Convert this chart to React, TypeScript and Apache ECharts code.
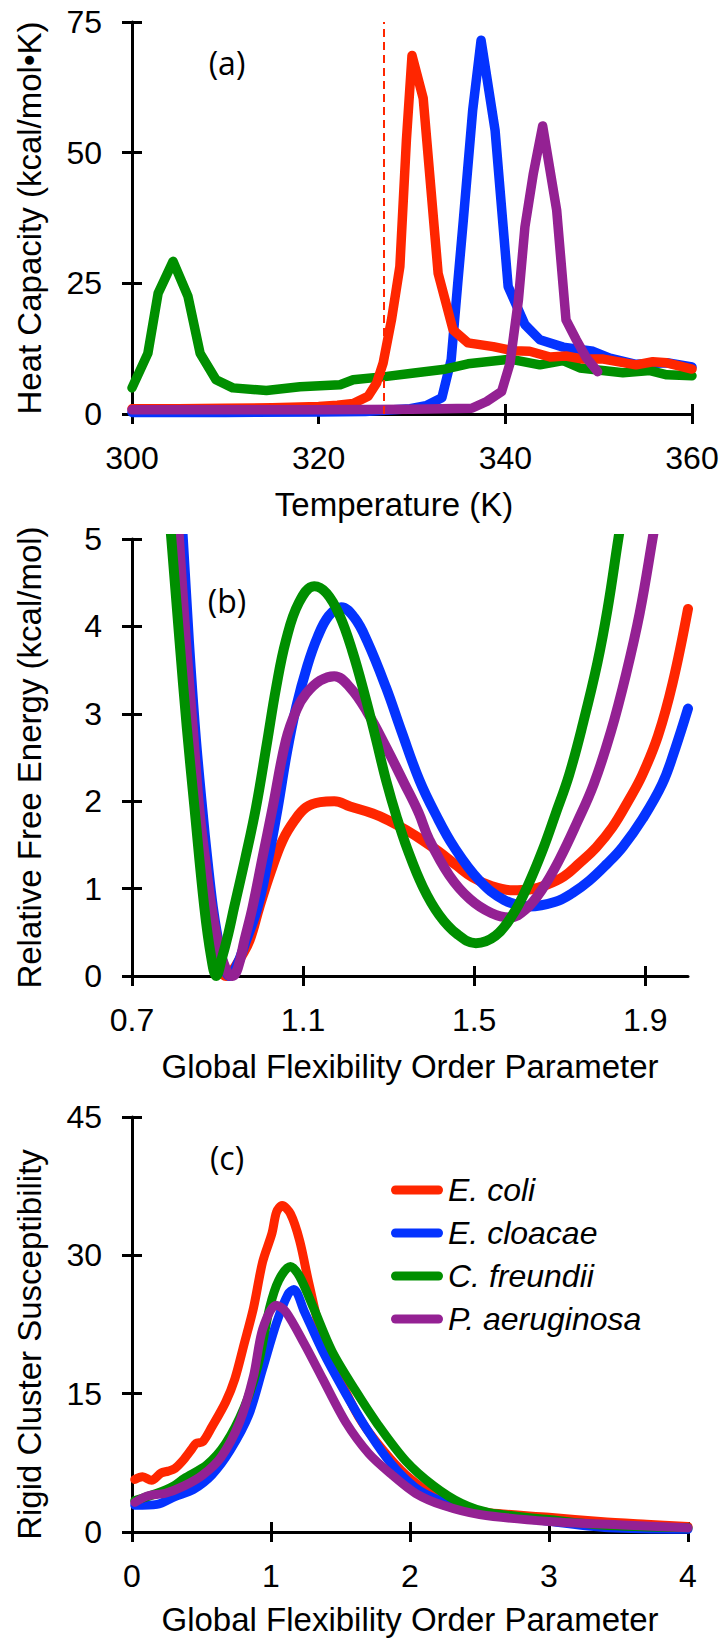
import React, { useEffect, useRef } from 'react';
import * as echarts from 'echarts';

const FONT = '"Liberation Sans", Arial, Helvetica, sans-serif';
const LABEL_FONT = '"Open Sans", "Noto Sans", sans-serif';

const SPECIES = ['E. coli', 'E. cloacae', 'C. freundii', 'P. aeruginosa'];
const COLORS = ['#FF2600', '#0433FF', '#008F00', '#942193'];
const PANEL_LABELS = ['(a)', '(b)', '(c)'];

// ---------- Panel (a): heat capacity vs temperature ----------
const A_X_TICKS = [300, 320, 340, 360];
const A_Y_TICKS = [0, 25, 50, 75];
const A_TM_LINE = 327;

const aEcoliT = [300, 305, 310, 315, 320, 322, 323.7, 325.3, 326.2, 326.9, 327.8, 328.7, 329.4, 330, 331.2, 332.8, 334.4, 336, 338.7, 340.8, 342.6, 344.8, 346.5, 348.3, 350.5, 354, 355.8, 357.3, 360];
const aEcoliCp = [1.0, 1.0, 1.1, 1.2, 1.45, 1.7, 2.0, 3.4, 5.9, 9.7, 18, 28.2, 52.4, 68.6, 60.4, 26.9, 16.1, 13.6, 12.9, 12.1, 12.0, 10.9, 11.1, 10.5, 10.5, 9.4, 10.0, 9.8, 8.6];

const aCloacaeT = [300, 310, 320, 325, 328, 329.8, 331.5, 333.2, 334.2, 334.9, 335.5, 336.5, 337.4, 338.9, 340.3, 342.1, 343.7, 346.2, 349.4, 351.2, 354, 357.3, 360];
const aCloacaeCp = [0.3, 0.3, 0.4, 0.5, 0.8, 1.0, 1.6, 3.1, 10.4, 25, 37.1, 58.1, 71.5, 54.3, 24.4, 17.1, 14.2, 12.8, 12.0, 10.7, 9.5, 9.8, 9.0];

const aFreundiiT = [300, 301.7, 302.8, 304.4, 306, 307.3, 309, 310.8, 314.4, 318, 322.3, 323.7, 327.3, 330, 333.3, 336, 340.5, 343.7, 346.2, 348, 352.6, 355.5, 357.3, 360];
const aFreundiiCp = [5.0, 11.6, 23.1, 29.2, 22.5, 11.6, 6.55, 5.0, 4.5, 5.2, 5.6, 6.55, 7.2, 7.8, 8.5, 9.6, 10.5, 9.4, 10.2, 8.8, 7.9, 8.3, 7.5, 7.3];

const aAeruginosaT = [300, 320, 330, 336.4, 338, 339.6, 340.5, 341.4, 342.1, 343, 344, 345.5, 346.5, 347.6, 348.7, 349.9];
const aAeruginosaCp = [0.8, 0.8, 0.9, 1.1, 2.4, 4.3, 9.7, 21.8, 35.8, 46, 55.1, 39, 18, 14.2, 10.7, 8.1];

// ---------- Panel (b): relative free energy ----------
const B_X_TICKS = [0.7, 1.1, 1.5, 1.9];
const B_Y_TICKS = [0, 1, 2, 3, 4, 5];

const bEcoliV = [0.795, 0.805, 0.823, 0.838, 0.853, 0.868, 0.881, 0.895, 0.91, 0.92, 0.935, 0.955, 0.975, 0.998, 1.025, 1.052, 1.08, 1.107, 1.14, 1.173, 1.21, 1.263, 1.3, 1.341, 1.38, 1.418, 1.46, 1.496, 1.54, 1.59, 1.63, 1.668, 1.71, 1.746, 1.785, 1.823, 1.86, 1.893, 1.93, 1.964, 2.0];
const bEcoliF = [5.9, 5.0, 3.84, 2.85, 1.93, 1.25, 0.79, 0.35, 0.05, 0.0, 0.06, 0.22, 0.41, 0.79, 1.2, 1.55, 1.78, 1.93, 1.99, 2.0, 1.94, 1.86, 1.78, 1.67, 1.55, 1.42, 1.26, 1.13, 1.03, 0.98, 0.99, 1.04, 1.14, 1.29, 1.47, 1.7, 2.0, 2.3, 2.75, 3.35, 4.2];

const bCloacaeV = [0.81, 0.819, 0.833, 0.848, 0.864, 0.877, 0.889, 0.9, 0.914, 0.928, 0.945, 0.965, 0.994, 1.017, 1.041, 1.062, 1.084, 1.11, 1.134, 1.16, 1.189, 1.22, 1.25, 1.294, 1.33, 1.372, 1.41, 1.453, 1.512, 1.57, 1.629, 1.69, 1.73, 1.769, 1.81, 1.847, 1.894, 1.94, 1.97, 2.0];
const bCloacaeF = [5.6, 5.0, 3.84, 2.8, 1.93, 1.3, 0.79, 0.45, 0.13, 0.0, 0.12, 0.38, 0.79, 1.3, 1.93, 2.55, 3.08, 3.55, 3.88, 4.12, 4.22, 4.1, 3.83, 3.3, 2.8, 2.24, 1.85, 1.475, 1.094, 0.87, 0.796, 0.85, 0.95, 1.09, 1.28, 1.475, 1.8, 2.2, 2.6, 3.06];

const bFreundiiV = [0.78, 0.792, 0.811, 0.828, 0.846, 0.869, 0.885, 0.897, 0.91, 0.925, 0.939, 0.965, 0.99, 1.015, 1.037, 1.06, 1.09, 1.126, 1.155, 1.185, 1.215, 1.245, 1.27, 1.294, 1.32, 1.344, 1.38, 1.418, 1.46, 1.504, 1.55, 1.59, 1.625, 1.66, 1.69, 1.722, 1.755, 1.788, 1.812, 1.837, 1.85];
const bFreundiiF = [5.7, 5.0, 3.84, 2.85, 1.93, 0.79, 0.22, 0.0, 0.2, 0.48, 0.79, 1.35, 1.93, 2.65, 3.3, 3.84, 4.27, 4.46, 4.38, 4.13, 3.72, 3.2, 2.72, 2.24, 1.8, 1.45, 1.02, 0.7, 0.48, 0.376, 0.46, 0.7, 1.03, 1.44, 1.85, 2.3, 2.9, 3.58, 4.2, 5.0, 5.4];

const bAeruginosaV = [0.8, 0.81, 0.826, 0.842, 0.857, 0.872, 0.886, 0.905, 0.925, 0.935, 0.948, 0.963, 0.982, 1.005, 1.029, 1.06, 1.085, 1.107, 1.14, 1.173, 1.21, 1.25, 1.294, 1.337, 1.37, 1.395, 1.442, 1.49, 1.54, 1.582, 1.62, 1.66, 1.699, 1.74, 1.78, 1.82, 1.855, 1.887, 1.917, 1.93];
const bAeruginosaF = [5.7, 5.0, 3.84, 2.85, 1.93, 1.3, 0.79, 0.3, 0.02, 0.0, 0.1, 0.41, 0.79, 1.35, 1.93, 2.7, 3.05, 3.23, 3.38, 3.43, 3.3, 3.02, 2.62, 2.2, 1.87, 1.56, 1.15, 0.88, 0.72, 0.67, 0.76, 1.0, 1.33, 1.75, 2.2, 2.8, 3.45, 4.15, 5.0, 5.4];

// ---------- Panel (c): rigid cluster susceptibility ----------
const C_X_TICKS = [0, 1, 2, 3, 4];
const C_Y_TICKS = [0, 15, 30, 45];

const cEcoliV = [0.02, 0.076, 0.14, 0.21, 0.26, 0.31, 0.375, 0.43, 0.46, 0.51, 0.575, 0.674, 0.74, 0.807, 0.874, 0.94, 1.007, 1.04, 1.08, 1.14, 1.206, 1.272, 1.372, 1.472, 1.638, 1.804, 1.97, 2.17, 2.37, 2.57, 3.0, 3.37, 3.7, 4.0];
const cEcoliS = [5.7, 6.0, 5.6, 6.4, 6.6, 6.9, 7.9, 9.0, 9.6, 9.8, 11.4, 14.1, 16.6, 20.4, 24.3, 29.3, 32.4, 34.7, 35.4, 34.5, 31.6, 27, 20.8, 17.3, 12.3, 8.9, 6.2, 4.0, 2.7, 2.1, 1.6, 1.15, 0.85, 0.6];

const cCloacaeV = [0.02, 0.18, 0.31, 0.44, 0.575, 0.708, 0.84, 0.94, 1.04, 1.123, 1.164, 1.24, 1.372, 1.538, 1.704, 1.87, 2.04, 2.2, 2.435, 3.0, 3.43, 4.0];
const cCloacaeS = [2.9, 3.0, 3.85, 4.6, 6.2, 8.9, 12.7, 17.7, 22.7, 25.8, 26.3, 23.9, 19.6, 15, 10.8, 7.3, 4.8, 3.5, 2.3, 1.15, 0.46, 0.3];

const cFreundiiV = [0.02, 0.18, 0.3, 0.375, 0.54, 0.674, 0.807, 0.907, 0.99, 1.056, 1.14, 1.206, 1.306, 1.439, 1.605, 1.771, 1.97, 2.17, 2.37, 2.57, 3.0, 3.37, 4.0];
const cFreundiiS = [3.4, 4.2, 5.0, 5.8, 7.3, 9.6, 13.5, 18.1, 24.3, 27.3, 28.8, 27.7, 24.3, 19.6, 15.4, 11.6, 7.7, 5.0, 3.1, 2.1, 1.35, 0.77, 0.45];

const cAeruginosaV = [0.02, 0.11, 0.24, 0.375, 0.51, 0.64, 0.774, 0.874, 0.94, 1.037, 1.106, 1.24, 1.372, 1.538, 1.704, 1.87, 2.04, 2.236, 2.5, 3.0, 3.53, 4.0];
const cAeruginosaS = [3.2, 3.9, 4.2, 5.0, 6.2, 8.1, 11.9, 16.9, 22, 24.6, 23.9, 20.4, 16.6, 11.9, 8.5, 6.2, 4.2, 2.9, 1.9, 1.15, 0.77, 0.45];

const pairs = (xs: number[], ys: number[]) => xs.map((x, i) => [x, ys[i]]);

const AXIS_COLOR = '#000';

function makeAxes(
  dim: 'x' | 'y',
  gridIndex: number,
  min: number,
  max: number,
  ticks: number[],
  name: string,
  nameGap: number,
  namePadding: number[],
) {
  const base: any = {
    type: 'value',
    gridIndex,
    min,
    max,
    position: dim === 'x' ? 'bottom' : 'left',
    splitLine: { show: false },
  };
  const main = {
    ...base,
    axisLine: { show: true, onZero: false, lineStyle: { color: AXIS_COLOR, width: 3 } },
    axisTick: { show: true, inside: false, length: 10, customValues: ticks, lineStyle: { color: AXIS_COLOR, width: 3 } },
    axisLabel: {
      show: true,
      customValues: ticks,
      margin: dim === 'x' ? 28 : 30,
      color: '#000',
      fontSize: 32,
      fontFamily: FONT,
    },
    name,
    nameLocation: 'middle',
    nameGap,
    nameTextStyle: { color: '#000', fontSize: 33, fontFamily: FONT, padding: namePadding },
  };
  const inner = {
    ...base,
    axisLine: { show: false, onZero: false },
    axisTick: { show: true, inside: true, length: 10, customValues: ticks, lineStyle: { color: AXIS_COLOR, width: 3 } },
    axisLabel: { show: false },
  };
  return [main, inner];
}

function lineSeries(
  idx: number,
  xs: number[],
  ys: number[],
  axisIndex: number,
  width: number,
  smooth: number | boolean,
  extra: any = {},
) {
  return {
    type: 'line',
    name: SPECIES[idx],
    xAxisIndex: axisIndex,
    yAxisIndex: axisIndex,
    data: pairs(xs, ys),
    showSymbol: false,
    symbol: 'none',
    smooth,
    clip: true,
    color: COLORS[idx],
    lineStyle: { color: COLORS[idx], width, cap: 'round', join: 'round' },
    emphasis: { disabled: true },
    ...extra,
  };
}

export default function App() {
  const ref = useRef<HTMLDivElement>(null);

  useEffect(() => {
    if (!ref.current) return;
    const chart = echarts.init(ref.current, undefined, { renderer: 'svg' });

    const xA = makeAxes('x', 0, 300, 360, A_X_TICKS, 'Temperature (K)', 74, [0, 36, 0, 0]);
    const yA = makeAxes('y', 0, 0, 75, A_Y_TICKS, 'Heat Capacity (kcal/mol\u2022K)', 86, [0, 0, 0, 0]);
    const xB = makeAxes('x', 1, 0.7, 2.0, B_X_TICKS, 'Global Flexibility Order Parameter', 74, [0, 0, 0, 0]);
    const yB = makeAxes('y', 1, 0, 5, B_Y_TICKS, 'Relative Free Energy (kcal/mol)', 86, [0, 0, 0, 0]);
    const xC = makeAxes('x', 2, 0, 4, C_X_TICKS, 'Global Flexibility Order Parameter', 71, [0, 0, 0, 0]);
    const yC = makeAxes('y', 2, 0, 45, C_Y_TICKS, 'Rigid Cluster Susceptibility', 86, [0, 40, 0, 0]);

    const option: any = {
      animation: false,
      backgroundColor: '#ffffff',
      textStyle: { fontFamily: FONT },
      grid: [
        { left: 132, top: 22, width: 560, height: 392 },
        { left: 132, top: 539, width: 556, height: 437 },
        { left: 132, top: 1117, width: 556, height: 415 },
      ],
      xAxis: [...xA, ...xB, ...xC],
      yAxis: [...yA, ...yB, ...yC],
      legend: {
        data: SPECIES,
        orient: 'vertical',
        left: 386,
        top: 1169,
        itemWidth: 52,
        itemHeight: 9,
        itemGap: 11,
        icon: 'path://M4.5,0H47.5A4.5,4.5,0,0,1,47.5,9H4.5A4.5,4.5,0,0,1,4.5,0Z',
        itemStyle: { borderWidth: 0 },
        selectedMode: false,
        textStyle: { fontSize: 32, fontStyle: 'italic', fontFamily: FONT, color: '#000', lineHeight: 32 },
      },
      graphic: PANEL_LABELS.map((t, i) => ({
        type: 'text',
        x: 227,
        y: [62, 600, 1157][i],
        style: {
          text: t,
          fontSize: 32,
          fontFamily: LABEL_FONT,
          fill: '#000',
          align: 'center',
          verticalAlign: 'middle',
        },
      })),
      series: [
        // Panel (a)
        lineSeries(1, aCloacaeT, aCloacaeCp, 0, 9.5, false),
        lineSeries(2, aFreundiiT, aFreundiiCp, 0, 9.5, false),
        lineSeries(0, aEcoliT, aEcoliCp, 0, 9.5, false, {
          markLine: {
            silent: true,
            symbol: ['none', 'none'],
            label: { show: false },
            lineStyle: { color: COLORS[0], width: 2, type: [8, 5] },
            data: [{ xAxis: A_TM_LINE }],
          },
        }),
        lineSeries(3, aAeruginosaT, aAeruginosaCp, 0, 9.5, false),
        // Panel (b)
        lineSeries(0, bEcoliV, bEcoliF, 2, 10, 0.4),
        lineSeries(1, bCloacaeV, bCloacaeF, 2, 10, 0.4),
        lineSeries(3, bAeruginosaV, bAeruginosaF, 2, 10, 0.4),
        lineSeries(2, bFreundiiV, bFreundiiF, 2, 10, 0.4),
        // Panel (c)
        lineSeries(0, cEcoliV, cEcoliS, 4, 9, 0.3),
        lineSeries(1, cCloacaeV, cCloacaeS, 4, 9, 0.3),
        lineSeries(2, cFreundiiV, cFreundiiS, 4, 9, 0.3),
        lineSeries(3, cAeruginosaV, cAeruginosaS, 4, 9, 0.3),
      ],
    };

    chart.setOption(option);
    return () => chart.dispose();
  }, []);

  return (
    <div
      ref={ref}
      style={{ position: 'absolute', left: 0, top: 0, width: 724, height: 1638, background: '#fff' }}
    />
  );
}
